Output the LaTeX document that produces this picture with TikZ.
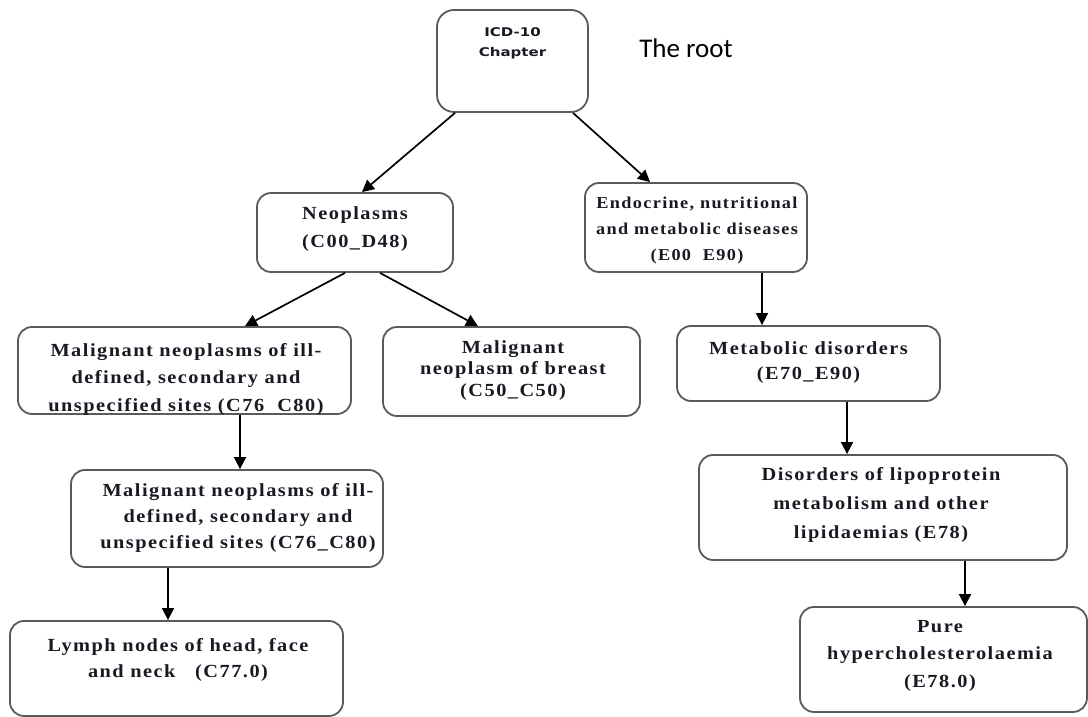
\documentclass[tikz,border=0pt]{standalone}
\usepackage{fontspec}
\setmainfont{Liberation Serif}
\newfontfamily\bodyfont[FakeStretch=1.1,LetterSpace=8]{Liberation Serif}
\newfontfamily\rootfont[FakeStretch=1.25]{DejaVu Sans}
\newfontfamily\notefont{Carlito}
\usetikzlibrary{arrows.meta,calc}
\definecolor{boxgray}{RGB}{90,90,90}
\definecolor{txt}{RGB}{25,25,35}
\begin{document}
\begin{tikzpicture}[x=1pt,y=1pt,
  box/.style={draw=boxgray, line width=1.8pt, rounded corners=14pt, inner sep=0pt},
  lbl/.style={anchor=north, align=center, inner sep=0pt, text=txt,
    font=\bodyfont\bfseries\fontsize{18.5}{#1}\selectfont},
  lbl/.default=26,
  arr/.style={line width=1.7pt, -{Triangle[length=12pt,width=12pt]}}]
\useasboundingbox (0,0) rectangle (1088,717);

% boxes
\node[box, minimum width=151pt, minimum height=102pt, rounded corners=17pt] (root) at (512.5,656) {};
\node[box, minimum width=196pt, minimum height=79pt] (neo) at (355,484.5) {};
\node[box, minimum width=222pt, minimum height=89pt] (endo) at (696,489.5) {};
\node[box, minimum width=333pt, minimum height=87pt] (mal1) at (184.5,346.5) {};
\node[box, minimum width=257pt, minimum height=89pt] (breast) at (511.5,345.5) {};
\node[box, minimum width=263pt, minimum height=75pt] (meta) at (808.5,353.5) {};
\node[box, minimum width=312pt, minimum height=97pt] (mal2) at (227,198.5) {};
\node[box, minimum width=368pt, minimum height=105pt] (dis) at (883,209.5) {};
\node[box, minimum width=333pt, minimum height=95pt] (lymph) at (176.5,48.5) {};
\node[box, minimum width=287pt, minimum height=105pt] (pure) at (943.5,57.5) {};

% labels
\node[anchor=north, align=center, inner sep=0pt, text=txt,
  font=\rootfont\bfseries\fontsize{12}{20}\selectfont] (rootlbl) at (512.5,690) {ICD-10\\Chapter};
\node[lbl=28] (neolbl) at (355,511) {Neoplasms\\(C00\_D48)};
\node[lbl, font=\bodyfont\bfseries\fontsize{16.6}{26}\selectfont] (endolbl) at (697,520) {Endocrine, nutritional\\and metabolic diseases\\(E00\ \ E90)};
\node[lbl=27.5] (mal1lbl) at (186,374) {Malignant neoplasms of ill-\\defined, secondary and\\unspecified sites (C76\ \ C80)};
\node[lbl=21.5] (breastlbl) at (513,377) {Malignant\\neoplasm of breast\\(C50\_C50)};
\node[lbl=25] (metalbl) at (808.5,376) {Metabolic disorders\\(E70\_E90)};
\node[lbl=26] (mal2lbl) at (238,234) {Malignant neoplasms of ill-\\defined, secondary and\\unspecified sites (C76\_C80)};
\node[lbl=29] (dislbl) at (881,250) {Disorders of lipoprotein\\metabolism and other\\lipidaemias (E78)};
\node[lbl=26] (lymphlbl) at (178,79) {Lymph nodes of head, face\\and neck\ \ \ (C77.0)};
\node[lbl=27.5] (purelbl) at (940,97) {Pure\\hypercholesterolaemia\\(E78.0)};

\node[font=\notefont\fontsize{27}{32}\selectfont, text=black, inner sep=0pt] (note) at (686,669) {The root};

% connectors
\draw[arr] ([xshift=-57.5pt]root.south) -- ([xshift=7pt]neo.north);
\draw[arr] ([xshift=60.5pt]root.south) -- ([xshift=-46pt]endo.north);
\draw[arr] ([xshift=-10pt]neo.south) -- ([xshift=60.5pt]mal1.north);
\draw[arr] ([xshift=25pt]neo.south) -- ([xshift=-33.5pt]breast.north);
\draw[arr] ([xshift=55.5pt]mal1.south) -- ([xshift=13pt]mal2.north);
\draw[arr] ([xshift=-59pt]mal2.south) -- ([xshift=-8.5pt]lymph.north);
\draw[arr] ([xshift=66pt]endo.south) -- ([xshift=-46.5pt]meta.north);
\draw[arr] ([xshift=38.5pt]meta.south) -- ([xshift=-36pt]dis.north);
\draw[arr] ([xshift=82pt]dis.south) -- ([xshift=21.5pt]pure.north);
\end{tikzpicture}
\end{document}
